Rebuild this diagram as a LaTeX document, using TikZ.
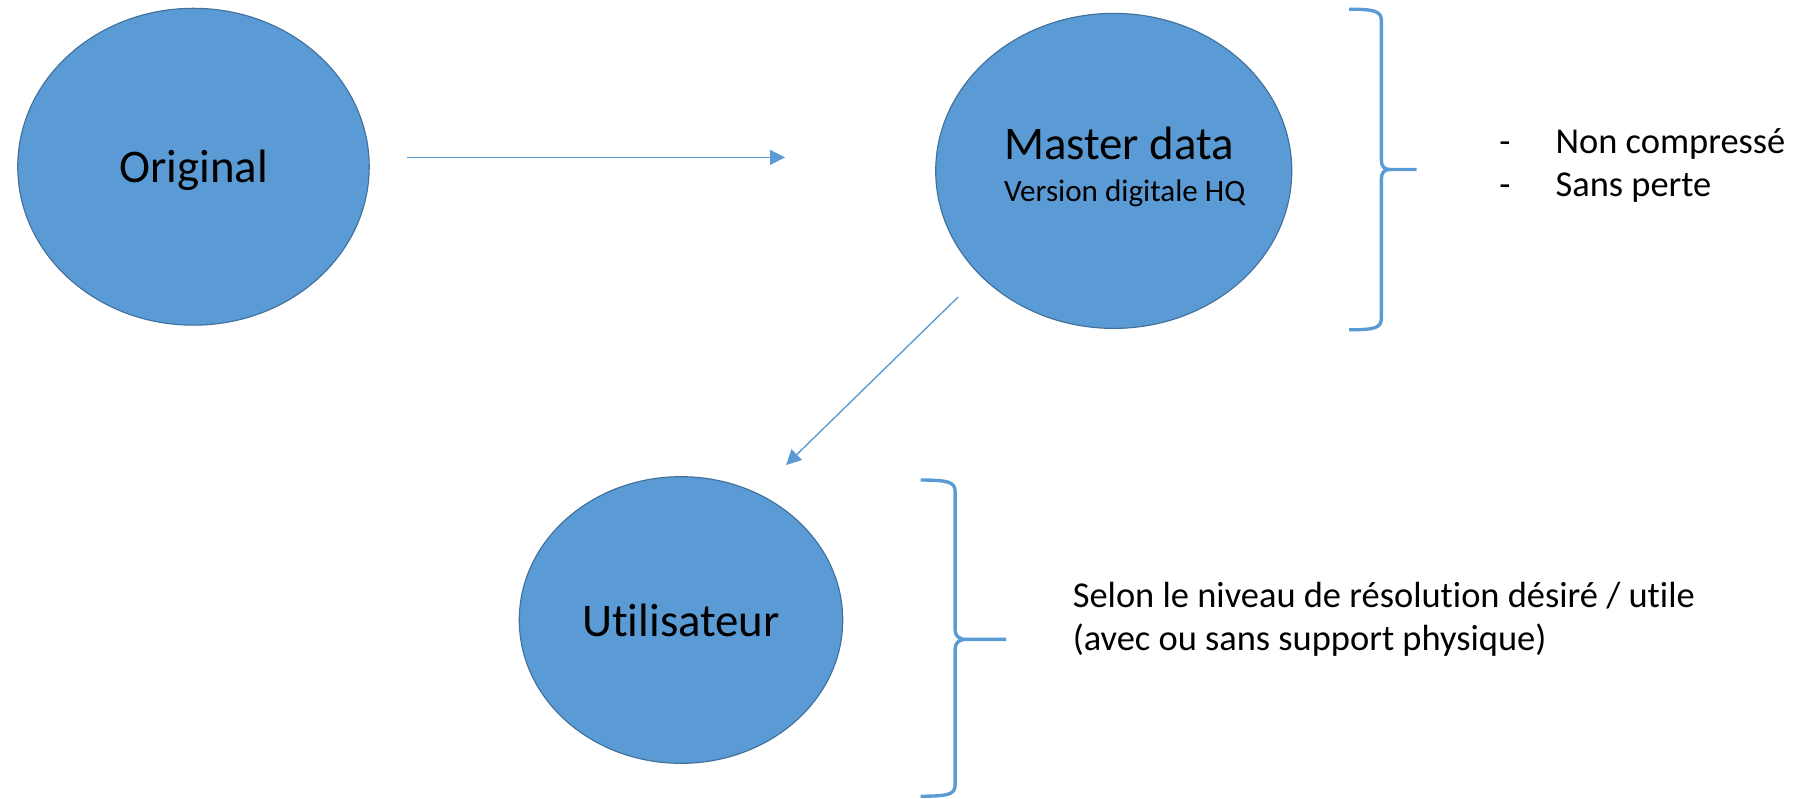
\documentclass[tikz,border=0pt]{standalone}
\usepackage{fontspec}
\setmainfont{Carlito}[Ligatures=NoCommon]
\usetikzlibrary{shapes.geometric,arrows.meta}
\definecolor{bubblefill}{HTML}{5B9BD5}
\definecolor{bubbleline}{HTML}{41719C}
\tikzset{
  bubble/.style={ellipse, draw=bubbleline, line width=0.5pt, fill=bubblefill, inner sep=0pt, font=\fontsize{20.3}{24}\selectfont},
  link/.style={draw=bubblefill, line width=0.6pt, -{Triangle[length=6.5pt,width=6.5pt]}},
  curly/.style={draw=bubblefill, line width=1.45pt},
  note/.style={inner sep=0pt, anchor=base west, font=\fontsize{15.8}{18.5}\selectfont}
}
\begin{document}
\begin{tikzpicture}[x=0.5pt,y=-0.5pt]
\useasboundingbox (0,0) rectangle (1568,692.9);
\node (orig) [bubble, text depth=0pt, minimum width=152.4pt, minimum height=137.4pt] at (167.8,144.6) {Original};
\node (master) [bubble, font=\fontsize{20.3}{18.35}\selectfont, inner xsep=-5pt, minimum width=154.4pt, minimum height=136.6pt] at (965.9,148.2) {
\begin{tabular}{@{\hspace{9.5pt}}l@{}}
  Master data \\
  {\fontsize{13.5}{16}\selectfont Version digitale HQ}
\end{tabular}
};
\node (user) [bubble, minimum width=140.25pt, minimum height=124.3pt] at (590.6,537.7) {Utilisateur};
\coordinate (origout) at (353.3,136.5);
\coordinate (masterin) at (680.8,136.5);
\coordinate (masterout) at (830.9,257.6);
\coordinate (userin) at (681.7,403.3);
\draw [link] (origout) -- (masterin);
\draw [link] (masterout) -- (userin);
\draw [curly] (1170,8) .. controls (1192,8) and (1198,9.5) .. (1198,18) -- (1198,139)
  .. controls (1198,145) and (1201,147) .. (1206,147)
  .. controls (1201,147) and (1198,149) .. (1198,155) -- (1198,276)
  .. controls (1198,284.5) and (1192,286) .. (1170,286)
  (1206,147) -- (1228.6,147);
\draw [curly] (798.5,416.3) .. controls (822,416.3) and (828.3,418) .. (828.3,426) -- (828.3,546)
  .. controls (828.3,552) and (832,554.5) .. (838.4,554.5)
  .. controls (832,554.5) and (828.3,557) .. (828.3,563) -- (828.3,681)
  .. controls (828.3,689) and (822,690.5) .. (798.5,690.5)
  (838.4,554.5) -- (872.5,554.5);
\node (props) [note] at (1300,133) {\begin{tabular}[t]{@{}p{24.35pt}@{}l@{}}
  - & Non compressé \\
  - & Sans perte
\end{tabular}};
\node (usage) [note] at (930,527) {\begin{tabular}[t]{@{}l@{}}
  Selon le niveau de résolution désiré / utile \\
  (avec ou sans support physique)
\end{tabular}};
\end{tikzpicture}
\end{document}
